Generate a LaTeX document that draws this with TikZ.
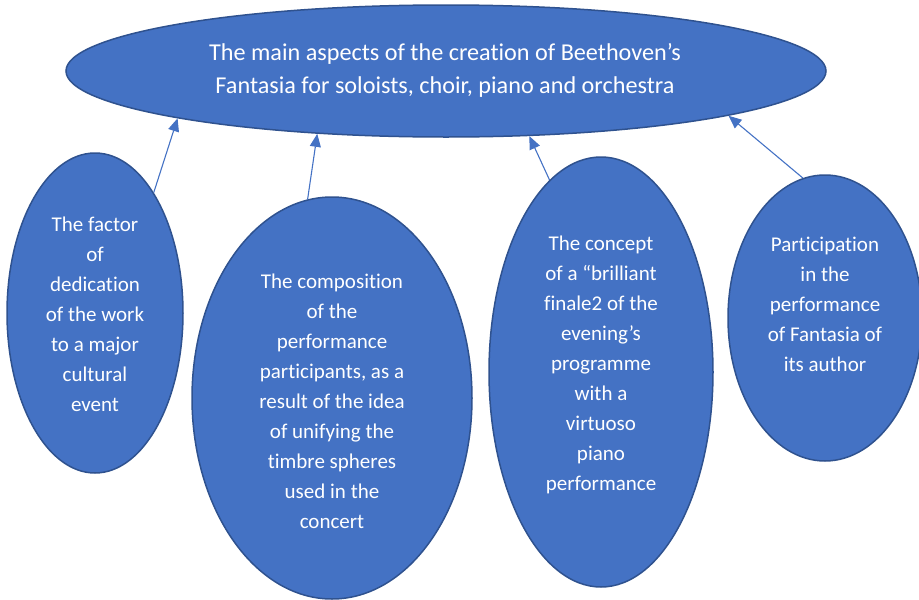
\documentclass[tikz,border=0pt]{standalone}
\usepackage{fontspec}
\setmainfont{Carlito}[Ligatures={NoCommon}]
\usetikzlibrary{shapes.geometric,arrows.meta}
\definecolor{fillblue}{HTML}{4472C4}
\definecolor{edgeblue}{HTML}{2F528F}
\tikzset{
  bubble/.style={ellipse, fill=fillblue, draw=edgeblue, line width=1.5pt, inner sep=0pt},
  bubbletext/.style={text=white, align=center, font=\fontsize{21}{30}\selectfont, inner sep=0pt},
  headtext/.style={text=white, align=center, font=\fontsize{24.2}{33}\selectfont, inner sep=0pt},
  link/.style={draw=fillblue, line width=1.1pt, -{Triangle[length=13pt,width=11pt]}}
}
\begin{document}
\begin{tikzpicture}[x=1pt,y=-1pt]
\useasboundingbox (0,0) rectangle (919,600);
\clip (0,0) rectangle (919,600);

% main topic
\node[bubble, minimum width=760pt, minimum height=132pt] (top) at (446,71) {};
\node[headtext] (toptxt) at (445,70) {The main aspects of the creation of Beethoven’s\\Fantasia for soloists, choir, piano and orchestra};

% four aspects
\node[bubble, minimum width=176pt, minimum height=320pt] (c1) at (95,313) {};
\node[bubbletext] (t1) at (95,314) {The factor\\of\\dedication\\of the work\\to a major\\cultural\\event};

\node[bubble, minimum width=280pt, minimum height=402pt] (c2) at (332,398) {};
\node[bubbletext] (t2) at (332,401) {The composition\\of the\\performance\\participants, as a\\result of the idea\\of unifying the\\timbre spheres\\used in the\\concert};

\node[bubble, minimum width=224pt, minimum height=430pt] (c3) at (601,372) {};
\node[bubbletext] (t3) at (601,365) {The concept\\of a “brilliant\\finale2 of the\\evening’s\\programme\\with a\\virtuoso\\piano\\performance};

\node[bubble, minimum width=194pt, minimum height=286pt] (c4) at (825,318) {};
\node[bubbletext] (t4) at (825,304) {Participation\\in the\\performance\\of Fantasia of\\its author};

% connectors
\draw[link] (c1.64.4) -- (top.190.6);
\draw[link] (c2.97.2) -- (top.206.8);
\draw[link] (c3.105.9) -- (top.322.3);
\draw[link] (c4.99.5) -- (top.351.3);
\end{tikzpicture}
\end{document}
